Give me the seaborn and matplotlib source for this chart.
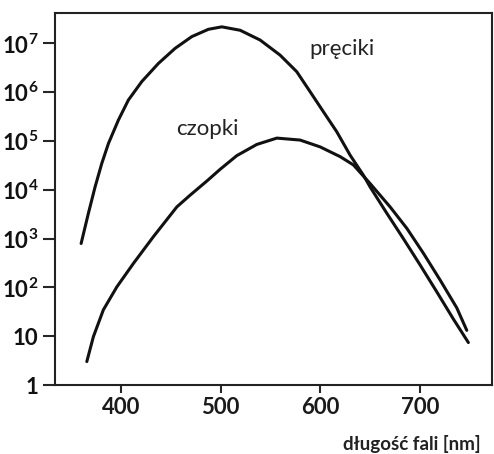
import numpy as np
import pandas as pd
import matplotlib
matplotlib.use("Agg")
import matplotlib.pyplot as plt
import seaborn as sns

# data (wavelength in nm, log10 of sensitivity)
rods_nm = [360.2, 367.5, 374.2, 380.9, 387.6, 397.6, 407.6, 421.1, 437.7, 454.5,
           471.2, 487.9, 501.3, 519.7, 539.7, 559.8, 576.5, 589.9, 603.2, 616.6,
           630.0, 643.3, 650.0, 666.8, 683.4, 700.2, 716.9, 733.6, 748.6]
rods_log = [2.90, 3.52, 4.06, 4.54, 4.95, 5.43, 5.84, 6.22, 6.59, 6.90,
            7.14, 7.29, 7.34, 7.27, 7.07, 6.76, 6.42, 6.01, 5.60, 5.19,
            4.71, 4.30, 4.06, 3.52, 3.00, 2.46, 1.91, 1.35, 0.87]
cones_nm = [365.9, 372.5, 382.5, 396.0, 412.6, 432.7, 456.2, 469.5, 486.3, 499.6,
            516.3, 536.4, 556.5, 579.8, 599.9, 620.0, 633.3, 650.0, 670.1, 686.9,
            703.5, 720.3, 737.0, 747.0]
cones_log = [0.48, 0.99, 1.54, 2.01, 2.49, 3.04, 3.65, 3.89, 4.18, 4.42,
             4.70, 4.93, 5.06, 5.02, 4.88, 4.68, 4.51, 4.13, 3.65, 3.21,
             2.70, 2.15, 1.58, 1.12]
x_ticks = [400, 500, 600, 700]
y_ticks = [1, 10, 100, 1e3, 1e4, 1e5, 1e6, 1e7]
y_labels = ["1", "10", r"$\mathbf{10^{2}}$", r"$\mathbf{10^{3}}$", r"$\mathbf{10^{4}}$",
            r"$\mathbf{10^{5}}$", r"$\mathbf{10^{6}}$", r"$\mathbf{10^{7}}$"]

sns.set_style("white")
plt.rcParams["font.family"] = ["Lato", "DejaVu Sans"]
plt.rcParams["mathtext.fontset"] = "custom"
plt.rcParams["mathtext.rm"] = "Lato"
plt.rcParams["mathtext.bf"] = "Lato:bold"

df = pd.concat([
    pd.DataFrame({"nm": rods_nm, "val": 10 ** np.array(rods_log), "typ": "pręciki"}),
    pd.DataFrame({"nm": cones_nm, "val": 10 ** np.array(cones_log), "typ": "czopki"}),
])

fig = plt.figure(figsize=(4.94, 4.54), dpi=100)
ax = fig.add_axes([55 / 494, 1 - 385 / 454, (491.7 - 55) / 494, (385 - 12.7) / 454])
sns.lineplot(data=df, x="nm", y="val", units="typ", estimator=None, sort=False,
             color="#111111", linewidth=2.2, ax=ax, legend=False)
for ln in ax.lines:
    ln.set_solid_joinstyle("round")
    ln.set_solid_capstyle("round")
ax.set_yscale("log")
ax.set_xlim(334, 772)
ax.set_ylim(1, 10 ** 7.63)
ax.set_xticks(x_ticks)
ax.set_xticklabels([str(t) for t in x_ticks], fontsize=16, fontweight="bold", color="#1a1a1a")
ax.set_yticks(y_ticks)
ax.set_yticklabels(y_labels, fontsize=16, fontweight="bold", color="#111111")
ax.yaxis.set_minor_locator(matplotlib.ticker.NullLocator())
ax.tick_params(axis="y", direction="out", length=9, width=1.5, pad=3, left=True)
ax.tick_params(axis="x", direction="out", length=6, width=1.5, pad=3, bottom=True)
for s in ax.spines.values():
    s.set_visible(True)
    s.set_color("#222222")
    s.set_linewidth(1.5)
ax.set_xlabel("")
ax.set_ylabel("")
ax.text(622, 10 ** 6.89, "pręciki", fontsize=16, ha="center", va="center", color="#222222")
ax.text(486.6, 10 ** 5.25, "czopki", fontsize=16, ha="center", va="center", color="#222222")
fig.text(481 / 494, 1 - 444 / 454, "długość fali [nm]", fontsize=13.5, fontweight="bold",
         ha="right", va="center", color="#222222")
fig.savefig("out.png", dpi=100)
